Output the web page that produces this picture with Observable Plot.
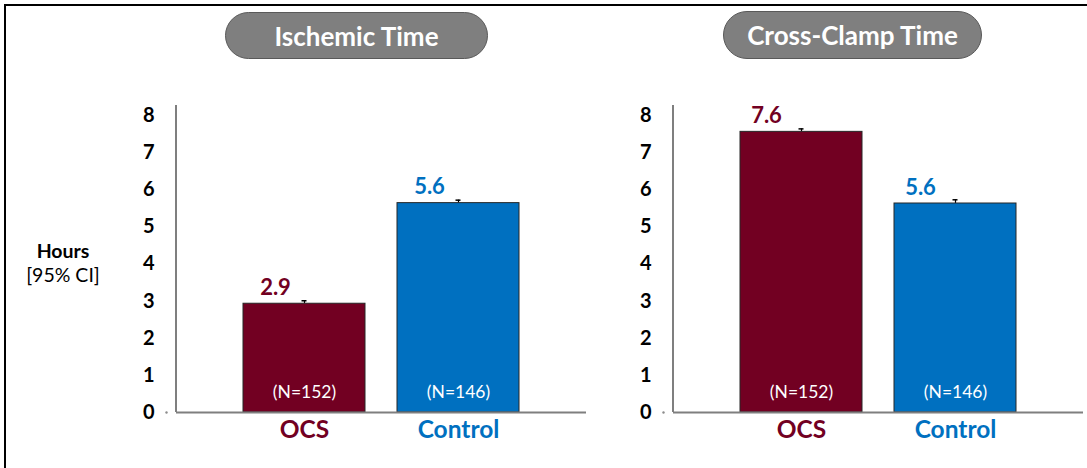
<!DOCTYPE html>
<html><head><meta charset="utf-8">
<script src="https://cdn.jsdelivr.net/npm/d3@7"></script>
<script src="https://cdn.jsdelivr.net/npm/@observablehq/plot@0.6"></script>
<style>
body{margin:0;background:#fff;}
#wrap{position:relative;width:1087px;height:468px;overflow:hidden;font-family:Lato,"Open Sans",sans-serif;background:#fff;}
.frame{position:absolute;left:4px;top:4px;width:1200px;height:600px;border:2px solid #000;}
.panel{position:absolute;top:0;}
.pill{position:absolute;background:#7f7f7f;border:1.5px solid #595959;border-radius:24px;color:#fff;font-weight:bold;font-size:26px;display:flex;align-items:center;justify-content:center;box-sizing:border-box;z-index:2;}
.ylab{position:absolute;left:0;width:126px;text-align:center;color:#000;font-size:19.5px;line-height:24px;z-index:2;}
</style>
</head><body>
<div id="wrap"><div class="frame"></div></div>
<script>
// ---- data ----
const groups = ["OCS", "Control"];
const groupColors = ["#720022", "#0070C0"];
const nLabels = ["(N=152)", "(N=146)"];
const panelTitles = ["Ischemic Time", "Cross-Clamp Time"];
const ischemicHours = [2.93, 5.64];
const ischemicCIHigh = [3.01, 5.72];
const crossClampHours = [7.56, 5.63];
const crossClampCIHigh = [7.64, 5.73];
const yTicks = [0, 1, 2, 3, 4, 5, 6, 7, 8];
const yLabel = ["Hours", "[95% CI]"];

const wrap = document.getElementById("wrap");

function yAxisLine(index, scales, values, dimensions) {
  const {marginLeft, marginTop, height, marginBottom} = dimensions;
  const line = d3.create("svg:line")
    .attr("x1", marginLeft).attr("x2", marginLeft)
    .attr("y1", marginTop).attr("y2", height - marginBottom)
    .attr("stroke", "#7f7f7f").attr("stroke-width", 2);
  return line.node();
}

function makePanel(values, hi, labelDx) {
  const rows = groups.map((g, i) => ({group: g, value: values[i], hi: hi[i], color: groupColors[i], n: nLabels[i]}));
  return Plot.plot({
    width: 590, height: 468,
    marginLeft: 176, marginRight: 4, marginTop: 105, marginBottom: 56,
    style: {fontFamily: "Lato, 'Open Sans', sans-serif", fontSize: "20px", fontWeight: "bold", color: "#000", background: "transparent", overflow: "visible"},
    color: {type: "identity"},
    x: {domain: groups, paddingInner: 0.208, paddingOuter: 0.435, axis: null},
    y: {domain: [0, 8.27], ticks: yTicks, tickSize: 0, tickPadding: 22, tickFormat: d => String(d), label: null},
    marks: [
      Plot.ruleX(rows, {x: "group", y1: "value", y2: "hi", stroke: "#000", strokeWidth: 1.2}),
      Plot.barY(rows, {x: "group", y: "value", fill: "color", stroke: "#262626", strokeWidth: 1}),
      Plot.tickY(rows, {x: "group", y: "hi", stroke: "#000", strokeWidth: 1.5, insetLeft: 58.5, insetRight: 58.5}),
      Plot.ruleY([0], {stroke: "#7f7f7f", strokeWidth: 2}),
      yAxisLine,
      Plot.dot([0], {y: d => d, frameAnchor: "left", dx: -10, r: 1.2, fill: "#8c8c8c"}),
      Plot.text(rows, {x: "group", y: "value", text: d => d.value.toFixed(1), fill: "color", dy: -16, dx: labelDx, fontSize: 22, fontWeight: "bold"}),
      Plot.text(rows, {x: "group", text: "n", frameAnchor: "bottom", dy: -15, fill: "#fff", fontSize: 17.5, fontWeight: "normal"}),
      Plot.text(rows, {x: "group", text: "group", frameAnchor: "bottom", dy: 25, fill: "color", fontSize: 24.5, fontWeight: "bold"})
    ]
  });
}

const p1 = makePanel(ischemicHours, ischemicCIHigh, -29);
p1.classList.add("panel"); p1.style.left = "0px";
wrap.appendChild(p1);
const p2 = makePanel(crossClampHours, crossClampCIHigh, -35);
p2.classList.add("panel"); p2.style.left = "497px";
wrap.appendChild(p2);

const pillBoxes = [[225, 12, 263, 47], [723, 11, 259, 48]];
panelTitles.forEach((t, i) => {
  const d = document.createElement("div");
  d.className = "pill";
  const [l, tp, w, h] = pillBoxes[i];
  Object.assign(d.style, {left: l + "px", top: tp + "px", width: w + "px", height: h + "px"});
  d.textContent = t;
  wrap.appendChild(d);
});

const yl = document.createElement("div");
yl.className = "ylab";
yl.style.top = "239px";
yl.innerHTML = `<div style="font-weight:bold">${yLabel[0]}</div><div>${yLabel[1]}</div>`;
wrap.appendChild(yl);
</script>
</body></html>
